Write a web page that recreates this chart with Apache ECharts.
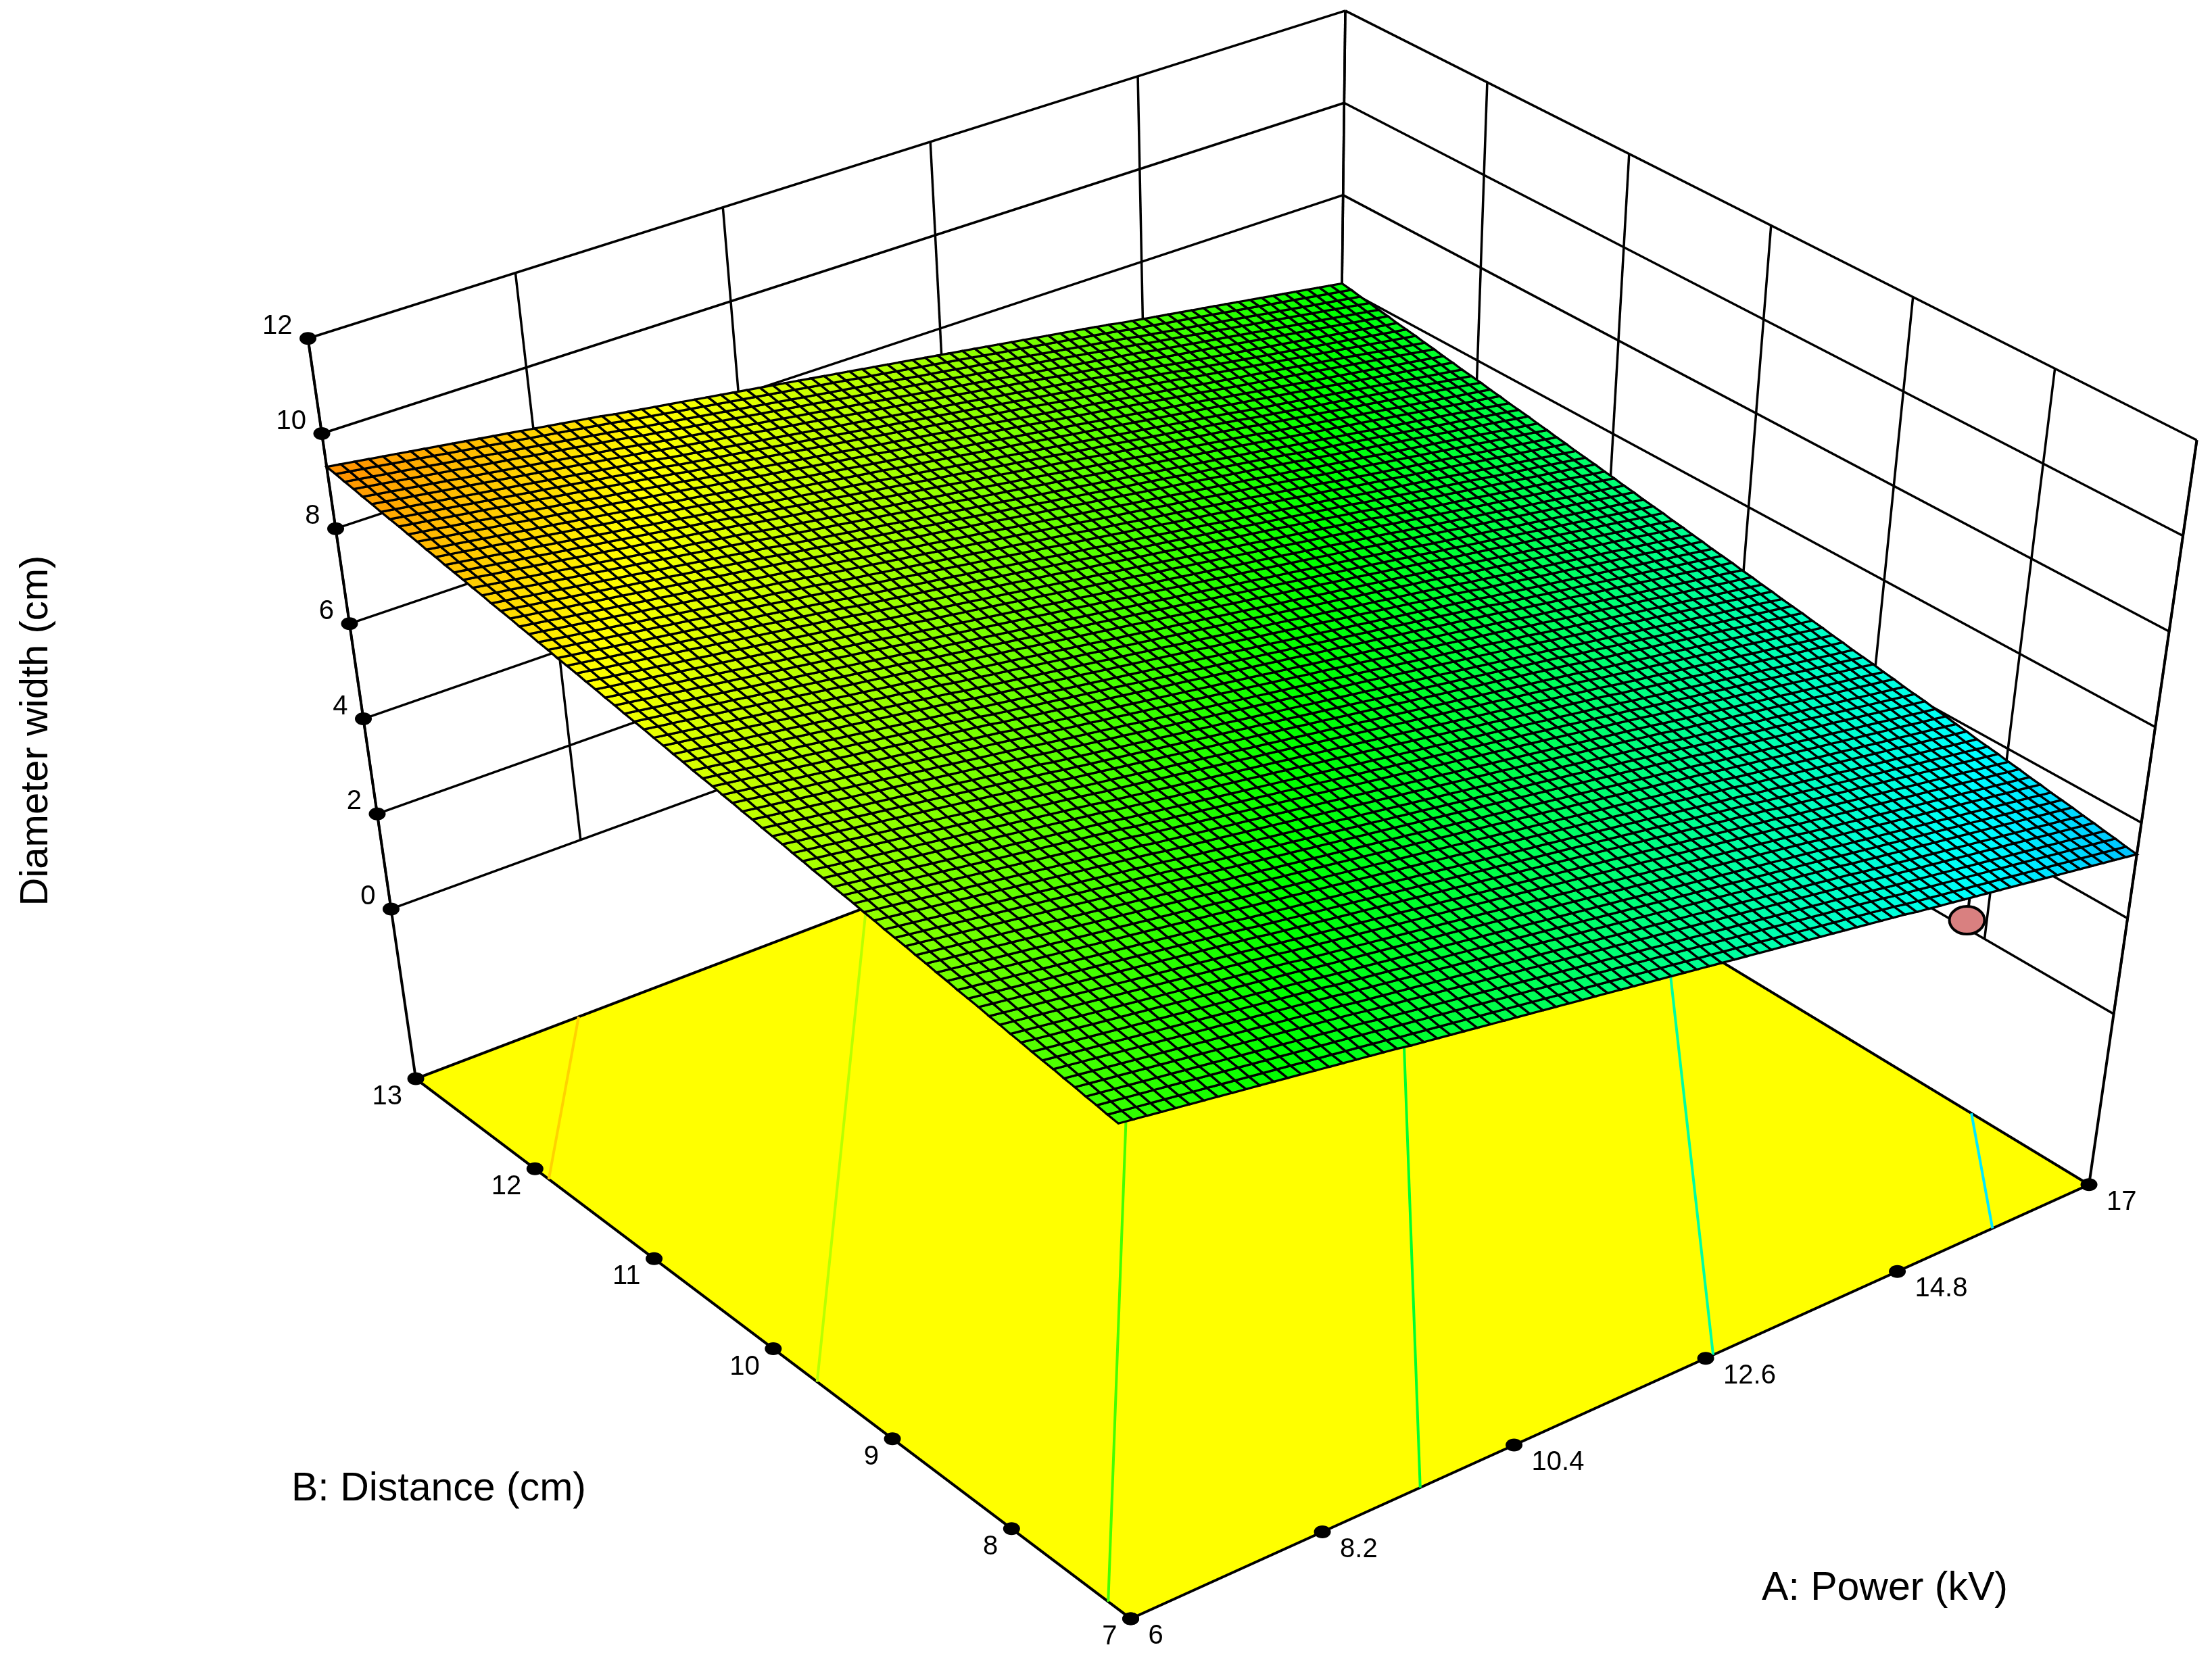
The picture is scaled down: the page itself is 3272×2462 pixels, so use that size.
<!DOCTYPE html><html><head><meta charset="utf-8"><style>html,body{margin:0;background:#fff;overflow:hidden}#c{width:3272px;height:2462px}</style>
<script src="https://cdn.jsdelivr.net/npm/echarts@6/dist/echarts.min.js"></script></head><body><div id="c"></div><script>
// Axis ticks
const aTicks=[6,8.2,10.4,12.6,14.8,17];
const bTicks=[7,8,9,10,11,12,13];
const zTicks=[0,2,4,6,8,10,12];
// Surface heights: height along B=7 for each mesh line in A, rise per mesh line in B
const heightAtB7=[6.56,6.52,6.48,6.44,6.40,6.36,6.32,6.28,6.24,6.20,6.16,6.12,6.08,6.04,6.00,5.96,5.92,5.88,5.84,5.80,5.76,5.71,5.67,5.63,5.59,5.55,5.51,5.47,5.43,5.39,5.35,5.31,5.27,5.23,5.19,5.15,5.11,5.07,5.03,4.99,4.95,4.91,4.87,4.83,4.79,4.75,4.71,4.67,4.63,4.59,4.55,4.51,4.47,4.43,4.39,4.35,4.31,4.27,4.23,4.19,4.15,4.10,4.06,4.02,3.98,3.94,3.90,3.86,3.82,3.78,3.74,3.70,3.66,3.62,3.58,3.54,3.50,3.46,3.42,3.38,3.34];
const riseWithB=[0,.03,.07,.10,.14,.17,.21,.24,.27,.31,.34,.38,.41,.45,.48,.51,.55,.58,.62,.65,.69,.72,.75,.79,.82,.86,.89,.92,.96,.99,1.03,1.06,1.10,1.13,1.16,1.20,1.23,1.27,1.30,1.34,1.37,1.40,1.44,1.47,1.51,1.54,1.58,1.61,1.64,1.68,1.71,1.75,1.78,1.82,1.85,1.88,1.92,1.95,1.99,2.02,2.06,2.09,2.12,2.16,2.19,2.23,2.26,2.29,2.33,2.36,2.40,2.43,2.47,2.50,2.53,2.57,2.60,2.64,2.67,2.71,2.74];
// Floor contours: level, and A0, B0, A1, B1 of each line
const contourLevels=[8.7,7.7,6.7,5.7,4.7,3.7];
const contourEnds=[[6,11.78,7.82,13],[6,9.47,11.16,13],[6,7.17,14.47,13],[9.12,7,17,12.5],[12.45,7,17,10.23],[15.8,7,17,7.86]];
// Design point: A, B, height
const designPoint=[15,7,3.46];
const floorZ=-3.57;
const A0=6,A1=17,B0=7,B1=13,Ztop=12;
const view=[[6,13,12,457,502],[6,13,floorZ,613,1594],[6,7,floorZ,1673,2396],[17,7,floorZ,3088,1752],[17,7,12,3251,651],[17,13,12,1987,15],[17,13,floorZ,1980,1079],
[11.5,7,floorZ,2420.5,2055.8],[11.5,13,12,1265,245],[11.5,13,floorZ,1335,1322],[6,10,floorZ,1125,1981],[17,10,12,2598,322],[17,10,floorZ,2515,1404]];
function solve(){const M=[],R=[];view.forEach((c,i)=>{const a=c[0]/10,b=c[1]/10,z=c[2]/10,u=c[3]/1000,v=c[4]/1000,w=i<7?8:1;
M.push([a,b,z,1,0,0,0,0,-u*a,-u*b,-u*z].map(x=>x*w));R.push(u*w);M.push([0,0,0,0,a,b,z,1,-v*a,-v*b,-v*z].map(x=>x*w));R.push(v*w);});
const n=11,N=[];for(let i=0;i<n;i++){N.push(new Array(n+1).fill(0));for(let j=0;j<n;j++)M.forEach(r=>N[i][j]+=r[i]*r[j]);M.forEach((r,k)=>N[i][n]+=r[i]*R[k]);}
for(let i=0;i<n;i++){let p=i;for(let k=i;k<n;k++)if(Math.abs(N[k][i])>Math.abs(N[p][i]))p=k;[N[i],N[p]]=[N[p],N[i]];for(let k=0;k<n;k++)if(k!==i){const f=N[k][i]/N[i][i];for(let j=i;j<=n;j++)N[k][j]-=f*N[i][j];}}
return N.map((r,i)=>r[n]/r[i]);}
const P=solve();
function pure(A,B,Z){const a=A/10,b=B/10,z=Z/10,w=P[8]*a+P[9]*b+P[10]*z+1;return[1000*(P[0]*a+P[1]*b+P[2]*z+P[3])/w,1000*(P[4]*a+P[5]*b+P[6]*z+P[7])/w];}
const mix=(p,q,t)=>[p[0]+(q[0]-p[0])*t,p[1]+(q[1]-p[1])*t];
function proj(A,B,Z){return mix(pure(A,B,floorZ),pure(A,B,Ztop),(Z-floorZ)/(Ztop-floorZ));}
function box(A,B,Z){const s=(A-A0)/(A1-A0),t=(B-B0)/(B1-B0);const c=z=>mix(mix(pure(A0,B0,z),pure(A1,B0,z),s),mix(pure(A0,B1,z),pure(A1,B1,z),s),t);return mix(c(floorZ),c(Ztop),(Z-floorZ)/(Ztop-floorZ));}
const stops=[[1.66,'#0000ff'],[3.88,'#00ffff'],[6.1,'#00ff00'],[8.31,'#ffff00'],[10.53,'#ff0000']];
function col(z){for(let i=1;i<stops.length;i++)if(z<=stops[i][0])return echarts.color.lerp((z-stops[i-1][0])/(stops[i][0]-stops[i-1][0]),[stops[i-1][1],stops[i][1]]);return '#f00';}
const N=heightAtB7.length-1,cells=[];for(let i=0;i<N;i++)for(let j=0;j<N;j++)cells.push([i,j]);
const AA=i=>A0+(A1-A0)*i/N,BB=j=>B0+(B1-B0)*j/N,zAt=(i,j)=>heightAtB7[i]+riseWithB[j];
const segs=[];
const add=(p,q,w)=>segs.push([...p,...q,w]);
zTicks.forEach(z=>{add([A0,B1,z],[A1,B1,z],3.5);add([A1,B1,z],[A1,B0,z],3.5);});
aTicks.forEach(a=>{add([a,B1,0],[a,B1,Ztop],3.5);});
bTicks.forEach(b=>{add([A1,b,0],[A1,b,Ztop],3.5);});
add([A0,B1,floorZ],[A0,B1,Ztop],4);add([A1,B0,floorZ],[A1,B0,Ztop],4);
const dots=[],labels=[];
zTicks.forEach(z=>{dots.push([A0,B1,z]);labels.push({t:String(z),dx:-23,dy:-18,al:'right'});});
bTicks.forEach(b=>{dots.push([A0,b,floorZ]);labels.push({t:String(b),dx:-20,dy:27,al:'right'});});
aTicks.forEach(a=>{dots.push([a,B0,floorZ]);labels.push({t:String(a),dx:26,dy:26,al:'left'});});
const base={type:'custom',coordinateSystem:'cartesian2d',progressive:0,silent:true,clip:false,encode:{x:0,y:1}};
const c=echarts.init(document.getElementById('c'),null,{renderer:'canvas'});
c.setOption({animation:false,grid:{left:0,right:0,top:0,bottom:0},xAxis:{type:'value',min:0,max:3272,show:false},yAxis:{type:'value',min:0,max:2462,inverse:true,show:false},
graphic:[
{type:'text',x:54,y:1081,rotation:Math.PI/2,style:{text:'Diameter width (cm)',font:'58px "Liberation Sans"',fill:'#000',align:'center',verticalAlign:'middle'}},
{type:'text',x:649,y:2204,style:{text:'B: Distance (cm)',font:'59px "Liberation Sans"',fill:'#000',align:'center',verticalAlign:'middle'}},
{type:'text',x:2788,y:2351,style:{text:'A: Power (kV)',font:'59px "Liberation Sans"',fill:'#000',align:'center',verticalAlign:'middle'}}
],
series:[
{...base,z:1,data:segs,renderItem:(p,api)=>{const s=segs[p.dataIndex],q=api.coord(box(s[0],s[1],s[2])),r=api.coord(box(s[3],s[4],s[5]));return{type:'line',shape:{x1:q[0],y1:q[1],x2:r[0],y2:r[1]},style:{stroke:'#000',lineWidth:s[6]}};}},
{...base,z:2,data:[[0,0]],renderItem:(p,api)=>({type:'polygon',shape:{points:[[A0,B1],[A0,B0],[A1,B0],[A1,B1]].map(k=>api.coord(box(k[0],k[1],floorZ)))},style:{fill:'#ffff00',stroke:'#000',lineWidth:4}})},
{...base,z:3,data:contourEnds,renderItem:(p,api)=>{const e=contourEnds[p.dataIndex],q=api.coord(pure(e[0],e[1],floorZ)),r=api.coord(pure(e[2],e[3],floorZ));return{type:'line',shape:{x1:q[0],y1:q[1],x2:r[0],y2:r[1]},style:{stroke:col(contourLevels[p.dataIndex]),lineWidth:4}};}},
{...base,z:4,data:[designPoint],renderItem:(p,api)=>{const d=designPoint,q=api.coord(proj(d[0],d[1],d[2])),zs=heightAtB7[Math.round((d[0]-A0)/(A1-A0)*N)],r=api.coord(proj(d[0],d[1],zs));return{type:'group',children:[{type:'line',shape:{x1:q[0],y1:q[1],x2:r[0],y2:r[1]},style:{stroke:'#000',lineWidth:4}},{type:'ellipse',shape:{cx:q[0],cy:q[1],rx:26,ry:20.5},style:{fill:'#d98080',stroke:'#000',lineWidth:4}}]};}},
{...base,z:5,data:cells,renderItem:(p,api)=>{const i=cells[p.dataIndex][0],j=cells[p.dataIndex][1],q=[[i,j],[i+1,j],[i+1,j+1],[i,j+1]].map(k=>api.coord(proj(AA(k[0]),BB(k[1]),zAt(k[0],k[1]))));return{type:'polygon',shape:{points:q},style:{fill:col((zAt(i,j)+zAt(i+1,j+1))/2),stroke:'#000',lineWidth:3.3}};}},
{...base,z:6,data:dots,renderItem:(p,api)=>{const d=dots[p.dataIndex],l=labels[p.dataIndex],q=api.coord(box(d[0],d[1],d[2]));return{type:'group',children:[{type:'ellipse',shape:{cx:q[0],cy:q[1],rx:12.5,ry:9.5},style:{fill:'#000'}},{type:'text',style:{text:l.t,x:q[0]+l.dx,y:q[1]+l.dy,font:'40px "Liberation Sans"',fill:'#000',align:l.al,verticalAlign:'middle'}}]};}}
]});
</script></body></html>
